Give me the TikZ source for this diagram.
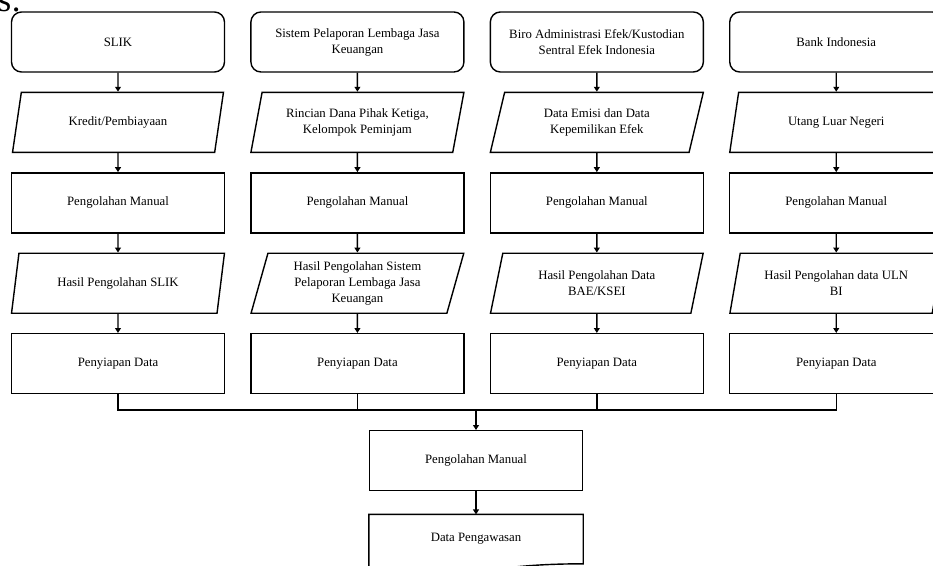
\documentclass[tikz,border=0pt]{standalone}
\usepackage{fontspec}
\setmainfont{Liberation Serif}
\usetikzlibrary{positioning,shapes.geometric,arrows.meta,calc}

\begin{document}
\begin{tikzpicture}[x=0.03cm, y=0.03cm, node distance=0.57cm, line width=1.2pt,
              every node/.style = {align=center, font=\fontsize{10.9}{13.6}\selectfont},
              source/.style = {draw, rectangle, rounded corners=0.3cm, minimum width=6.39cm, minimum height=1.8cm},
              data/.style = {draw, trapezium, trapezium left angle=76, trapezium right angle=104,
                trapezium stretches=true, minimum width=6.39cm, minimum height=1.8cm},
              process/.style = {draw, rectangle, minimum width=6.39cm, minimum height=1.8cm},
              arr/.style = {-{Triangle[length=4.2pt,width=5pt]}}]
  \useasboundingbox (0,0) rectangle (933,565);
  \node[anchor=base west, inner sep=0pt, font=\fontsize{30}{30}\selectfont] (judul) at (-3,553) {s:};

  \node[source] (src1) at (118,523) {SLIK};
  \node[data, below=of src1] (in1) {Kredit/Pembiayaan};
  \node[process, below=of in1] (olah1) {Pengolahan Manual};
  \node[data, below=of olah1] (hasil1) {Hasil Pengolahan SLIK};
  \node[process, below=of hasil1] (siap1) {Penyiapan Data};

  \node[source, right=0.75cm of src1] (src2) {Sistem Pelaporan Lembaga Jasa\\Keuangan};
  \node[data, below=of src2] (in2) {Rincian Dana Pihak Ketiga,\\Kelompok Peminjam};
  \node[process, below=of in2] (olah2) {Pengolahan Manual};
  \node[data, below=of olah2] (hasil2) {Hasil Pengolahan Sistem\\Pelaporan Lembaga Jasa\\Keuangan};
  \node[process, below=of hasil2] (siap2) {Penyiapan Data};

  \node[source, right=0.75cm of src2] (src3) {Biro Administrasi Efek/Kustodian\\Sentral Efek Indonesia};
  \node[data, below=of src3] (in3) {Data Emisi dan Data\\Kepemilikan Efek};
  \node[process, below=of in3] (olah3) {Pengolahan Manual};
  \node[data, below=of olah3] (hasil3) {Hasil Pengolahan Data\\BAE/KSEI};
  \node[process, below=of hasil3] (siap3) {Penyiapan Data};

  \node[source, right=0.75cm of src3] (src4) {Bank Indonesia};
  \node[data, below=of src4] (in4) {Utang Luar Negeri};
  \node[process, below=of in4] (olah4) {Pengolahan Manual};
  \node[data, below=of olah4] (hasil4) {Hasil Pengolahan data ULN\\BI};
  \node[process, below=of hasil4] (siap4) {Penyiapan Data};

  \draw[arr] (src1) -- (in1);   \draw[arr] (in1) -- (olah1);
  \draw[arr] (olah1) -- (hasil1); \draw[arr] (hasil1) -- (siap1);
  \draw[arr] (src2) -- (in2);   \draw[arr] (in2) -- (olah2);
  \draw[arr] (olah2) -- (hasil2); \draw[arr] (hasil2) -- (siap2);
  \draw[arr] (src3) -- (in3);   \draw[arr] (in3) -- (olah3);
  \draw[arr] (olah3) -- (hasil3); \draw[arr] (hasil3) -- (siap3);
  \draw[arr] (src4) -- (in4);   \draw[arr] (in4) -- (olah4);
  \draw[arr] (olah4) -- (hasil4); \draw[arr] (hasil4) -- (siap4);

  \coordinate (join) at (476,155);
  \draw (siap1) |- (join) -| (siap4);
  \draw (siap2) -- (siap2 |- join);
  \draw (siap3) -- (siap3 |- join);

  \node[process, below=0.6cm of join] (olah) {Pengolahan Manual};
  \node[below=0.69cm of olah, minimum width=6.39cm, minimum height=1.44cm] (awas) {Data Pengawasan};
  \draw[arr] (join) -- (olah);
  \draw[arr] (olah) -- (awas);
  \draw ($(awas.south west)+(0,-8)$) -- (awas.north west) -- (awas.north east) -- (awas.south east)
    .. controls (awas.south) and ($(awas.south)+(0,-18.3)$) .. ($(awas.south west)+(0,-8)$);
\end{tikzpicture}
\end{document}
